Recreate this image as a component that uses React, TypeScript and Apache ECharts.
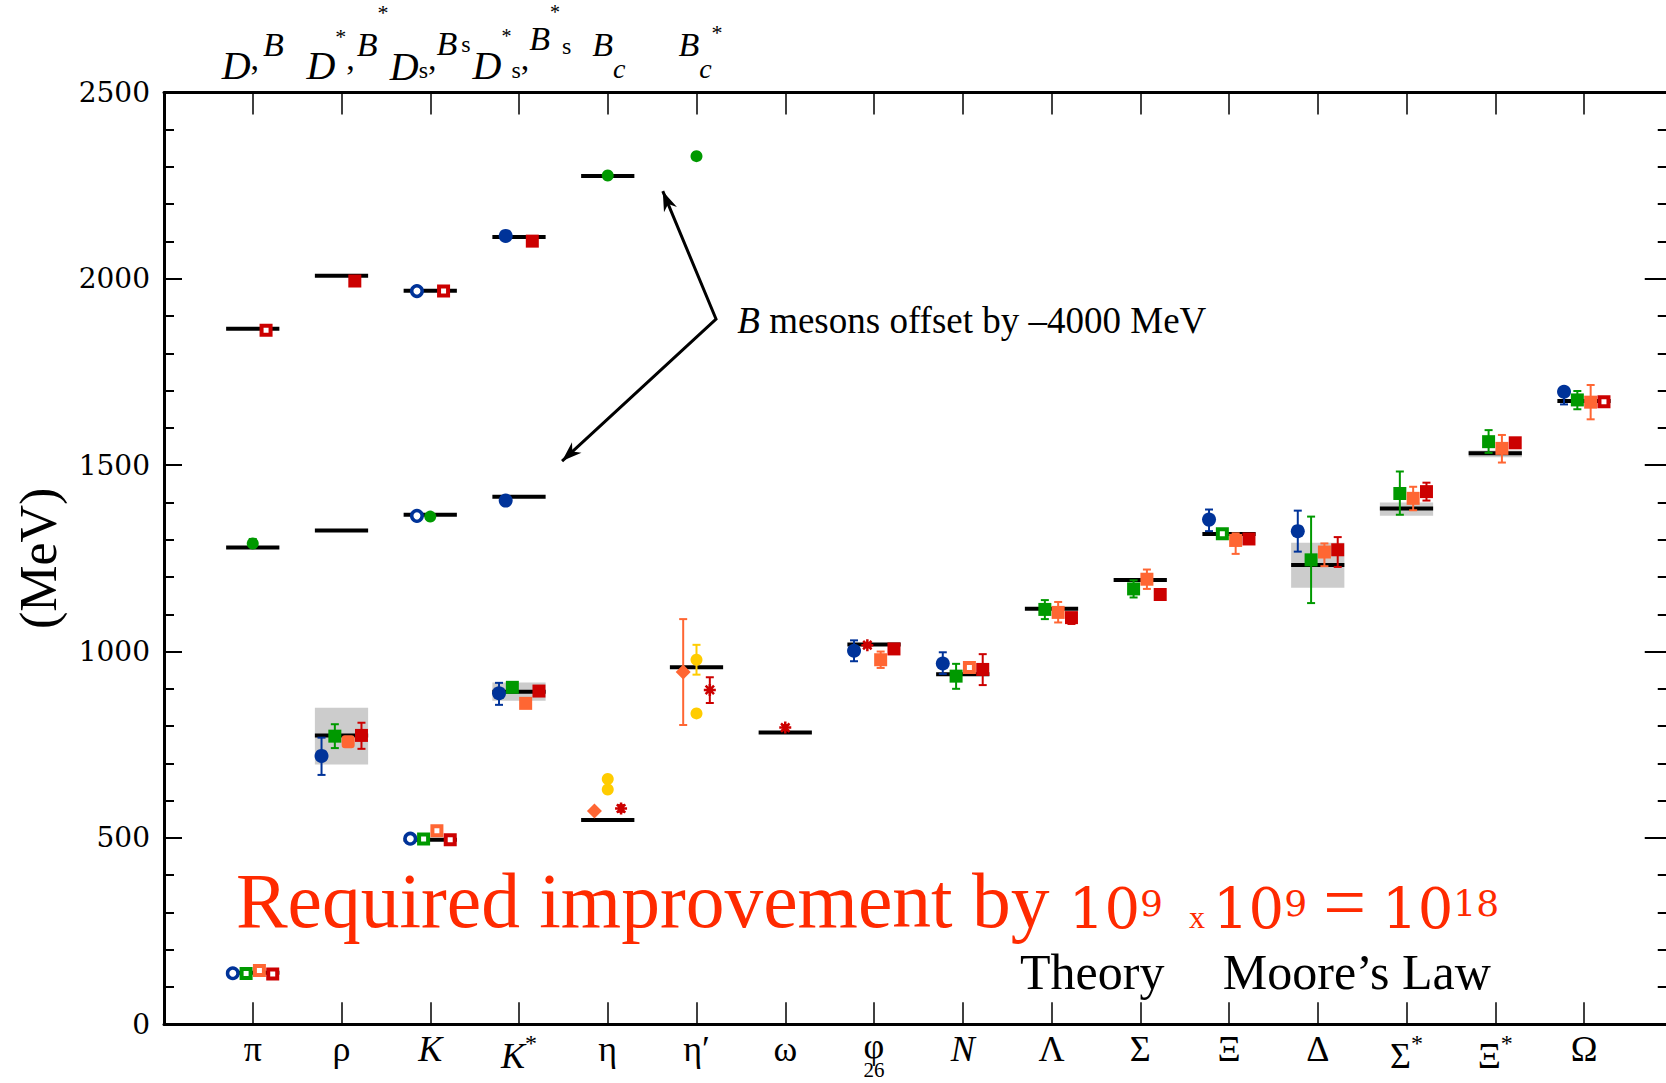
import React, { useEffect, useRef } from 'react';
import * as echarts from 'echarts';

// ---------------- data ----------------
// hadron columns 1..16 on the bottom axis
const categories = ['π', 'ρ', 'K', 'K*', 'η', 'η′', 'ω', 'φ', 'N', 'Λ', 'Σ', 'Ξ', 'Δ', 'Σ*', 'Ξ*', 'Ω'];
const yMin = 0;
const yMax = 2500;
const yStep = 500;

// experimental masses (black bars): [column, MeV]
const expLight = [
  [1, 138], [2, 775], [3, 495], [4, 892], [5, 548], [6, 958], [7, 783], [8, 1019],
  [9, 939], [10, 1115], [11, 1192], [12, 1315], [13, 1232], [14, 1384], [15, 1532], [16, 1672],
];
// heavy mesons (D's and B's, B's offset by -4000 MeV): [column, MeV]
const expHeavy = [
  [1, 1866], [2, 2008], [3, 1968], [4, 2112],
  [1, 1279], [2, 1325], [3, 1367], [4, 1415], [5, 2276],
];
// width (uncertainty) bands: [column, low, high]
const bands = [[2, 697, 849], [4, 868, 917], [13, 1171, 1292], [14, 1364, 1400], [15, 1521, 1539]];

// lattice results: [column, slot, mass, errLow, errHigh]
const blueCircle = [
  [2, -1.5, 720, 669, 769], [4, -1.5, 888, 857, 916], [8, -1.5, 1002, 974, 1030],
  [9, -1.5, 968, 940, 998], [12, -1.5, 1354, 1323, 1381], [13, -1.5, 1323, 1268, 1378],
  [16, -1.5, 1697, 1663, 1700], [4, -1, 2115], [4, -1, 1405],
];
const blueOpen = [[1, -1.5, 137], [3, -1.5, 498], [3, -1, 1967], [3, -1, 1364]];
const greenSquare = [
  [2, -0.5, 773, 741, 805], [4, -0.5, 904], [9, -0.5, 934, 900, 967], [10, -0.5, 1113, 1087, 1138],
  [11, -0.5, 1168, 1145, 1191], [13, -0.5, 1246, 1130, 1362], [14, -0.5, 1424, 1367, 1483],
  [15, -0.5, 1563, 1533, 1594], [16, -0.5, 1675, 1650, 1699],
];
const greenOpen = [[1, -0.5, 136], [3, -0.5, 497], [12, -0.5, 1316]];
const greenCircle = [[1, 0, 1290, 1284, 1302], [3, 0, 1362], [5, 0, 2277], [6, 0, 2329]];
const orangeSquare = [
  [4, 0.5, 861, 849, 873], [8, 0.5, 978, 956, 1000], [10, 0.5, 1105, 1078, 1133],
  [11, 0.5, 1194, 1168, 1220], [12, 0.5, 1298, 1262, 1317], [13, 0.5, 1267, 1229, 1290],
  [14, 0.5, 1411, 1379, 1442], [15, 0.5, 1545, 1507, 1581], [16, 0.5, 1669, 1623, 1715],
];
const orangeRound = [[2, 0.5, 758, 749, 767]];
const orangeOpen = [[1, 0.5, 144], [3, 0.5, 519], [9, 0.5, 957, 945, 970]];
const orangeDiamond = [[5, -1, 572], [6, -1, 945, 803, 1087]];
const redSquare = [
  [2, 1.5, 775, 739, 809], [4, 1.5, 894], [8, 1.5, 1007], [9, 1.5, 952, 910, 993],
  [10, 1.5, 1091, 1074, 1101], [11, 1.5, 1153, 1148, 1160], [12, 1.5, 1302],
  [13, 1.5, 1273, 1227, 1307], [14, 1.5, 1429, 1405, 1453], [15, 1.5, 1560],
  [2, 1, 1994], [4, 1, 2101],
];
const redOpen = [[1, 1.5, 135], [3, 1.5, 495], [1, 1, 1862], [3, 1, 1967], [16, 1.5, 1670]];
const redStar = [[5, 1, 579, 570, 588], [6, 1, 897, 862, 931], [7, 0, 796, 789, 803], [8, -0.5, 1017, 1012, 1022]];
const yellowCircle = [[5, 0, 658], [5, 0, 630], [6, 0, 978, 938, 1018], [6, 0, 834]];

// annotation anchors in data coordinates [x, MeV]
const arrowUpper = [5.62, 2235];
const arrowVertex = [6.22, 1892];
const arrowLower = [4.485, 1511];
const noteAnchor = [6.46, 1889];
const redTextAnchor = [0.81, 225];
const theoryAnchor = [9.645, 141];
const mooreAnchor = [11.93, 141];

// ---------------- styling ----------------
const BLUE = '#003399';
const GREEN = '#009900';
const ORANGE = '#ff6633';
const RED = '#cc0000';
const YELLOW = '#ffcc00';
const SERIF = 'Liberation Serif';
const SLOT = 0.15;
const HALF = 0.3;

const xOf = (p: number[]) => p[0] + p[1] * SLOT;

function scatter(name: string, pts: number[][], symbol: string, size: number, itemStyle: any) {
  return {
    type: 'scatter', name, silent: true, z: 6,
    data: pts.map((p) => [xOf(p), p[2]]),
    symbol, symbolSize: size, itemStyle: { opacity: 1, ...itemStyle },
  };
}

function errors(name: string, pts: number[][], color: string) {
  const d = pts.filter((p) => p.length >= 5).map((p) => [xOf(p), p[3], p[4]]);
  return {
    type: 'custom', name, silent: true, z: 5, data: d,
    encode: { x: 0, y: [1, 2] },
    renderItem: (params: any, api: any) => {
      const x = api.value(0);
      const lo = api.coord([x, api.value(1)]);
      const hi = api.coord([x, api.value(2)]);
      const cx = lo[0];
      const w = 4;
      const st = { stroke: color, lineWidth: 2 };
      return {
        type: 'group',
        children: [
          { type: 'line', shape: { x1: cx, y1: lo[1], x2: cx, y2: hi[1] }, style: st },
          { type: 'line', shape: { x1: cx - w, y1: lo[1], x2: cx + w, y2: lo[1] }, style: st },
          { type: 'line', shape: { x1: cx - w, y1: hi[1], x2: cx + w, y2: hi[1] }, style: st },
        ],
      };
    },
  };
}

function labelRich(c: string) {
  if (c === 'K' || c === 'N') return `{gi|${c}}`;
  if (c === 'K*') return '{lowi|K}{star|*}';
  if (c.endsWith('*')) return `{low|${c[0]}}{star|*}`;
  if (c === 'φ') return '{gphi|φ}\n{sub|26}';
  return `{g|${c}}`;
}

const ASTERISK = 'path://M6 0L6 12M0 6L12 6M1.8 1.8L10.2 10.2M1.8 10.2L10.2 1.8';

function buildOption() {
  const yAxisCommon = {
    type: 'value', min: yMin, max: yMax, interval: yStep,
    splitLine: { show: false }, minorSplitLine: { show: false },
  };
  const xAxisCommon = {
    type: 'value', min: 0, max: categories.length + 1, interval: 1,
    splitLine: { show: false },
    axisLine: { show: true, onZero: false, lineStyle: { color: '#000', width: 3 } },
    axisTick: { show: true, inside: true, length: 22, lineStyle: { color: '#000', width: 1.5 } },
  };
  const base = { fontFamily: SERIF, color: '#000', verticalAlign: 'middle' };
  return {
    animation: false,
    backgroundColor: '#fff',
    textStyle: { fontFamily: SERIF },
    grid: { left: 164, top: 92.4, width: 1508.75, height: 931.9, containLabel: false, outerBoundsMode: 'none' },
    xAxis: [
      {
        ...xAxisCommon, position: 'bottom',
        axisLabel: {
          show: true, margin: 5, color: '#000',
          formatter: (v: number) => {
            const i = Math.round(v);
            if (i < 1 || i > categories.length) return '';
            return labelRich(categories[i - 1]);
          },
          rich: {
            g: { ...base, fontSize: 36, lineHeight: 40 },
            gphi: { ...base, fontSize: 36, lineHeight: 33 },
            gi: { ...base, fontSize: 36, lineHeight: 40, fontStyle: 'italic' },
            low: { ...base, fontSize: 36, lineHeight: 40, padding: [13, 0, 0, 0] },
            lowi: { ...base, fontSize: 36, lineHeight: 40, fontStyle: 'italic', padding: [13, 0, 0, 0] },
            star: { ...base, fontSize: 24, lineHeight: 24, padding: [0, 0, 13, 0] },
            sub: { ...base, fontSize: 21, lineHeight: 15 },
          },
        },
      },
      { ...xAxisCommon, position: 'top', axisLabel: { show: false } },
    ],
    yAxis: [
      {
        ...yAxisCommon, position: 'left',
        axisLine: { show: true, onZero: false, lineStyle: { color: '#000', width: 3 } },
        axisTick: { show: true, inside: true, length: 18, lineStyle: { color: '#000', width: 2 } },
        minorTick: { show: true, splitNumber: 5, length: 10, lineStyle: { color: '#000', width: 2 } },
        axisLabel: { show: true, margin: 14, fontFamily: 'DejaVu Serif', fontSize: 28, color: '#000', formatter: (v: number) => String(v) },
        name: '(MeV)', nameLocation: 'middle', nameGap: 100, nameRotate: 90,
        nameTextStyle: { fontFamily: SERIF, fontSize: 52, color: '#000' },
      },
      {
        ...yAxisCommon, position: 'right',
        axisLine: { show: true, onZero: false, lineStyle: { color: '#000', width: 3 } },
        axisTick: { show: true, inside: true, length: 28, lineStyle: { color: '#000', width: 2 } },
        minorTick: { show: true, splitNumber: 5, length: 15, lineStyle: { color: '#000', width: 2 } },
        axisLabel: { show: false },
      },
    ],
    series: [
      {
        type: 'custom', name: 'bands', silent: true, z: 2, data: bands,
        encode: { x: 0, y: [1, 2] },
        renderItem: (params: any, api: any) => {
          const c = api.value(0);
          const a = api.coord([c - HALF, api.value(2)]);
          const b = api.coord([c + HALF, api.value(1)]);
          return { type: 'rect', shape: { x: a[0], y: a[1], width: b[0] - a[0], height: b[1] - a[1] }, style: { fill: '#cccccc' } };
        },
      },
      {
        type: 'custom', name: 'experiment', silent: true, z: 3, data: [...expLight, ...expHeavy],
        encode: { x: 0, y: 1 },
        renderItem: (params: any, api: any) => {
          const c = api.value(0);
          const m = api.value(1);
          const a = api.coord([c - HALF, m]);
          const b = api.coord([c + HALF, m]);
          return { type: 'line', shape: { x1: a[0], y1: a[1], x2: b[0], y2: b[1] }, style: { stroke: '#000', lineWidth: 4 } };
        },
      },
      errors('eb-blue', blueCircle, BLUE),
      errors('eb-green', [...greenSquare, ...greenCircle], GREEN),
      errors('eb-orange', [...orangeSquare, ...orangeRound, ...orangeOpen, ...orangeDiamond], ORANGE),
      errors('eb-red', [...redSquare, ...redStar], RED),
      errors('eb-yellow', yellowCircle, YELLOW),
      scatter('blueCircle', blueCircle, 'circle', 14, { color: BLUE }),
      scatter('blueOpen', blueOpen, 'circle', 10.5, { color: '#fff', borderColor: BLUE, borderWidth: 3.5 }),
      scatter('greenSquare', greenSquare, 'rect', 13, { color: GREEN }),
      scatter('greenOpen', greenOpen, 'rect', 9, { color: '#fff', borderColor: GREEN, borderWidth: 4 }),
      scatter('greenCircle', greenCircle, 'circle', 12, { color: GREEN }),
      scatter('orangeSquare', orangeSquare, 'rect', 13, { color: ORANGE }),
      scatter('orangeRound', orangeRound, 'roundRect', 13, { color: ORANGE }),
      scatter('orangeOpen', orangeOpen, 'rect', 9, { color: '#fff', borderColor: ORANGE, borderWidth: 4 }),
      scatter('orangeDiamond', orangeDiamond, 'diamond', 15, { color: ORANGE }),
      scatter('redSquare', redSquare, 'rect', 13, { color: RED }),
      scatter('redOpen', redOpen, 'rect', 9, { color: '#fff', borderColor: RED, borderWidth: 4 }),
      scatter('redStar', redStar, ASTERISK, 12, { color: 'rgba(0,0,0,0)', borderColor: RED, borderWidth: 2.5 }),
      scatter('yellowCircle', yellowCircle, 'circle', 12, { color: YELLOW }),
    ],
  };
}

// top labels (D / B mesons), one rich text per column:
// parts: [text, fontSize, italic, visual centre y (px), left padding]
const TOP_BOTTOM = 88;
const topLabels: any[] = [
  [1, 0, [['D', 40, 1, 65, 0], [',', 34, 0, 58, 0], ['B', 34, 1, 44, 4]]],
  [2, 6, [['D', 40, 1, 65, 0], ['*', 22, 0, 36, 0], [',', 34, 0, 58, 0], ['B', 34, 1, 44, 2], ['*', 22, 0, 12, 0]]],
  [3, 0, [['D', 40, 1, 66, 0], ['s', 24, 0, 70, 0], [',', 34, 0, 58, 0], ['B', 34, 1, 43, 0], ['s', 24, 0, 44, 4]]],
  [4, 3, [['D', 40, 1, 65, 0], ['*', 20, 0, 36, 0], ['s', 24, 0, 70, 0], [',', 34, 0, 58, 0], ['B', 34, 1, 38, 0], ['*', 20, 0, 12, 0], ['s', 24, 0, 46, 2]]],
  [5, 1, [['B', 34, 1, 44, 0], ['c', 28, 1, 68, 0]]],
  [6, 4, [['B', 34, 1, 44, 0], ['c', 28, 1, 68, 0], ['*', 22, 0, 32, 0]]],
];

function arrowHead(tip: number[], from: number[], L = 20, W = 7) {
  const dx = tip[0] - from[0];
  const dy = tip[1] - from[1];
  const n = Math.hypot(dx, dy) || 1;
  const ux = dx / n, uy = dy / n;
  const bx = tip[0] - ux * L, by = tip[1] - uy * L;
  const px = -uy, py = ux;
  return {
    type: 'polygon', z: 100,
    shape: { points: [tip, [bx + px * W, by + py * W], [tip[0] - ux * L * 0.7, tip[1] - uy * L * 0.7], [bx - px * W, by - py * W]] },
    style: { fill: '#000' },
  };
}

function buildGraphics(chart: any) {
  const toPx = (p: number[]) => chart.convertToPixel({ gridIndex: 0 }, p) as number[];
  const g: any[] = [];
  topLabels.forEach(([col, shift, parts]) => {
    const cx = toPx([col, 0])[0];
    const rich: any = {};
    let text = '';
    parts.forEach((pt: any[], i: number) => {
      const [t, fs, it, yc, pl] = pt;
      const pad = Math.max(0, TOP_BOTTOM - fs / 2 - yc);
      rich['t' + i] = {
        fontFamily: SERIF, fontSize: fs, lineHeight: fs, fontStyle: it ? 'italic' : 'normal',
        fill: '#000', verticalAlign: 'bottom', padding: [0, 0, pad, pl],
      };
      text += `{t${i}|${t}}`;
    });
    g.push({
      type: 'text', z: 100, x: cx + shift, y: TOP_BOTTOM,
      style: { text, rich, fontFamily: SERIF, fill: '#000', align: 'center', verticalAlign: 'bottom' },
    });
  });
  const up = toPx(arrowUpper);
  const vx = toPx(arrowVertex);
  const lo = toPx(arrowLower);
  g.push({ type: 'polyline', z: 100, shape: { points: [up, vx, lo] }, style: { stroke: '#000', lineWidth: 3, fill: null } });
  g.push(arrowHead(up, vx));
  g.push(arrowHead(lo, vx));
  const na = toPx(noteAnchor);
  g.push({
    type: 'text', z: 100, x: na[0], y: na[1],
    style: {
      text: '{i|B} mesons offset by –4000 MeV',
      fontFamily: SERIF, fontSize: 37, fill: '#000', align: 'left', verticalAlign: 'middle',
      rich: { i: { fontFamily: SERIF, fontSize: 37, fontStyle: 'italic', fill: '#000' } },
    },
  });
  const ra = toPx(redTextAnchor);
  const RT = '#ff2a00';
  const NUM = 'DejaVu Serif';
  g.push({
    type: 'text', z: 100, x: ra[0], y: ra[1],
    style: {
      text: '{a|Required improvement by }{n|10}{s|9}{t|x}{n|10}{s|9}{e|=}{n|10}{s|18}',
      fontFamily: SERIF, fontSize: 77, fill: RT, align: 'left', verticalAlign: 'bottom',
      rich: {
        a: { fontFamily: SERIF, fontSize: 77.5, lineHeight: 78, fill: RT, verticalAlign: 'bottom' },
        n: { fontFamily: NUM, fontSize: 56, lineHeight: 56, fill: RT, verticalAlign: 'bottom', padding: [0, 0, 4, 0] },
        s: { fontFamily: NUM, fontSize: 36, lineHeight: 36, fill: RT, verticalAlign: 'bottom', padding: [0, 0, 19, 0] },
        t: { fontFamily: SERIF, fontSize: 32, lineHeight: 32, fill: RT, verticalAlign: 'bottom', padding: [0, 8, 7, 26] },
        e: { fontFamily: SERIF, fontSize: 76, lineHeight: 76, fill: RT, verticalAlign: 'bottom', padding: [0, 16, 0, 16] },
      },
    },
  });
  const ta = toPx(theoryAnchor);
  const ma = toPx(mooreAnchor);
  g.push({ type: 'text', z: 100, x: ta[0], y: ta[1], style: { text: 'Theory', fontFamily: SERIF, fontSize: 50, fill: '#000', align: 'left', verticalAlign: 'middle' } });
  g.push({ type: 'text', z: 100, x: ma[0], y: ma[1], style: { text: 'Moore’s Law', fontFamily: SERIF, fontSize: 50, fill: '#000', align: 'left', verticalAlign: 'middle' } });
  return g;
}

export default function App() {
  const ref = useRef<HTMLDivElement>(null);
  useEffect(() => {
    const chart = echarts.init(ref.current!, null, { renderer: 'svg' });
    chart.setOption(buildOption() as any);
    chart.setOption({ graphic: buildGraphics(chart) } as any);
    return () => chart.dispose();
  }, []);
  return (
    <div
      ref={ref}
      style={{ position: 'fixed', left: 0, top: 0, width: 1666, height: 1083, background: '#fff' }}
    />
  );
}
